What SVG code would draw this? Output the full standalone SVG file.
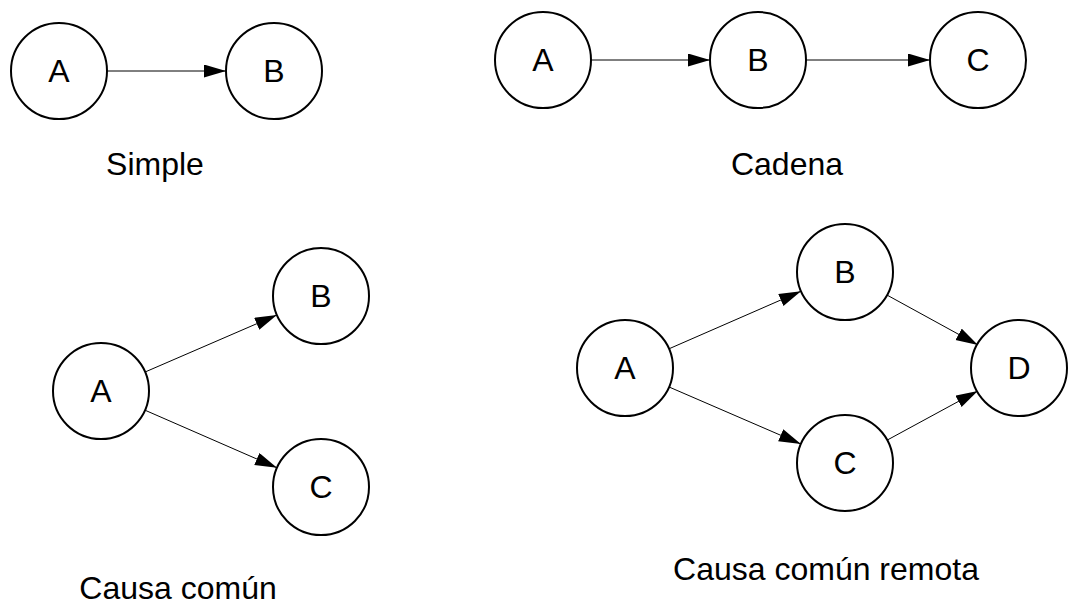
<svg xmlns="http://www.w3.org/2000/svg" width="1068" height="603" viewBox="0 0 1068 603">
<style>
.node circle{fill:#fff;stroke:#000;stroke-width:2}
.node text,.cap{font-family:"Liberation Sans",Arial,sans-serif;font-size:32px;text-anchor:middle;fill:#000}
#connectors line{stroke:#000;stroke-width:1;marker-end:url(#arr)}
</style>
<defs>
<marker id="arr" markerUnits="userSpaceOnUse" markerWidth="23" markerHeight="14" refX="22" refY="6.5" orient="auto">
<path d="M0,0 L22,6.5 L0,13 z" fill="#000"/>
</marker>
</defs>
<rect width="1068" height="603" fill="#fff"/>
<g id="connectors">
<line x1="107" y1="71" x2="226" y2="71"/>
<line x1="591" y1="60" x2="710" y2="60"/>
<line x1="806" y1="60" x2="930" y2="60"/>
<line x1="145.1" y1="372" x2="276.9" y2="315"/>
<line x1="145" y1="410.2" x2="277" y2="467.8"/>
<line x1="669" y1="348.8" x2="801" y2="291.2"/>
<line x1="669.1" y1="387" x2="800.9" y2="444"/>
<line x1="887.1" y1="295.1" x2="977.9" y2="344.9"/>
<line x1="887.2" y1="440.1" x2="977.8" y2="390.9"/>
</g>
<g id="simple-A" class="node"><circle cx="59" cy="71" r="48"/><text x="59" y="82">A</text></g>
<g id="simple-B" class="node"><circle cx="274" cy="71" r="48"/><text x="274" y="82">B</text></g>
<g id="cadena-A" class="node"><circle cx="543" cy="60" r="48"/><text x="543" y="71">A</text></g>
<g id="cadena-B" class="node"><circle cx="758" cy="60" r="48"/><text x="758" y="71">B</text></g>
<g id="cadena-C" class="node"><circle cx="978" cy="60" r="48"/><text x="978" y="71">C</text></g>
<g id="comun-A" class="node"><circle cx="101" cy="391" r="48"/><text x="101" y="402">A</text></g>
<g id="comun-B" class="node"><circle cx="321" cy="296" r="48"/><text x="321" y="307">B</text></g>
<g id="comun-C" class="node"><circle cx="321" cy="487" r="48"/><text x="321" y="498">C</text></g>
<g id="remota-A" class="node"><circle cx="625" cy="368" r="48"/><text x="625" y="379">A</text></g>
<g id="remota-B" class="node"><circle cx="845" cy="272" r="48"/><text x="845" y="283">B</text></g>
<g id="remota-C" class="node"><circle cx="845" cy="463" r="48"/><text x="845" y="474">C</text></g>
<g id="remota-D" class="node"><circle cx="1019" cy="368" r="48"/><text x="1019" y="379">D</text></g>
<g id="captions">
<text class="cap" x="155" y="175">Simple</text>
<text class="cap" x="787" y="175">Cadena</text>
<text class="cap" x="178" y="599">Causa común</text>
<text class="cap" x="826" y="580">Causa común remota</text>
</g>
</svg>
